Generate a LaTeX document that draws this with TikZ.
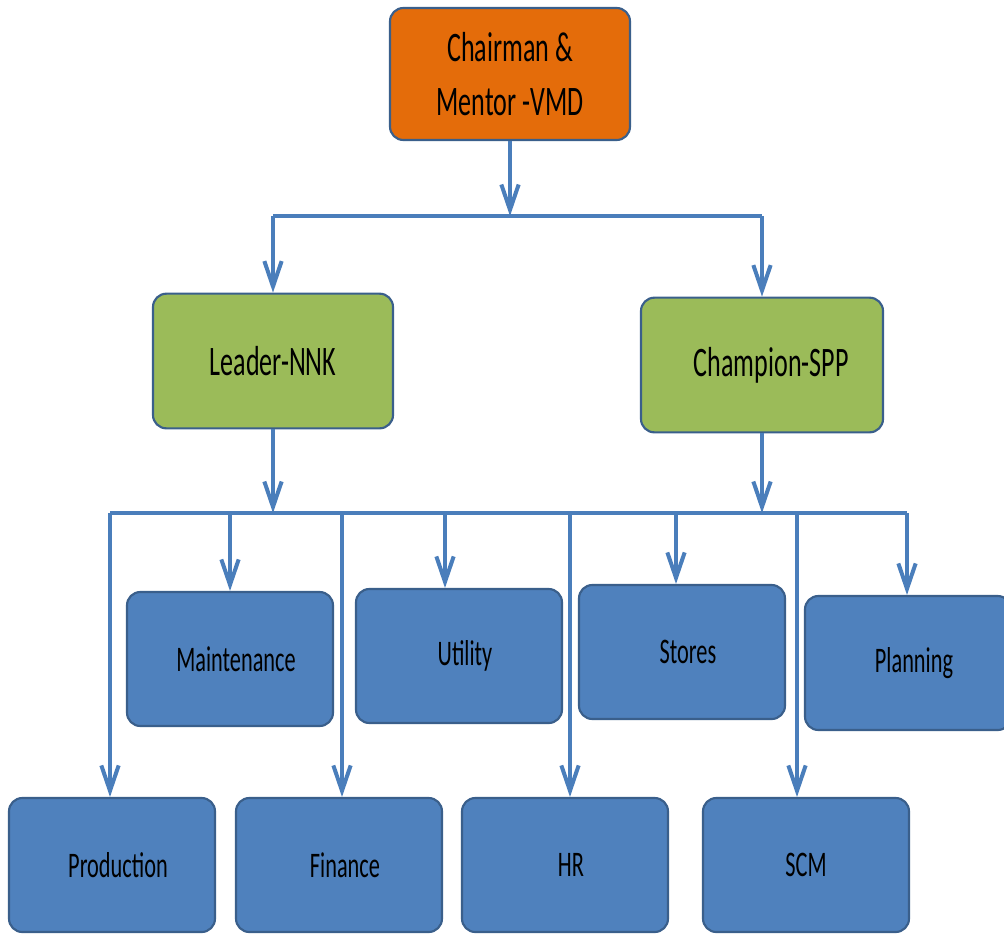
\documentclass[tikz,border=0pt]{standalone}
\usepackage{fontspec}
\setmainfont[FakeStretch=0.62]{Carlito}
\usetikzlibrary{arrows.meta}
\definecolor{orangefill}{HTML}{E46C0A}
\definecolor{greenfill}{HTML}{9BBB59}
\definecolor{bluefill}{HTML}{4F81BD}
\definecolor{boxborder}{HTML}{3A5F8B}
\definecolor{linkblue}{HTML}{4A7EBB}
\newcommand{\shiftr}{\kern9pt}
\begin{document}
\begin{tikzpicture}[x=0.75pt,y=-0.75pt,
 box/.style={draw=boxborder, line width=1.6pt, rounded corners=10pt, align=center, inner sep=0pt},
 topbox/.style={box, fill=orangefill, minimum width=180pt, minimum height=99pt, font=\fontsize{31.5}{41}\selectfont},
 midbox/.style={box, fill=greenfill, minimum width=180pt, minimum height=101pt, font=\fontsize{31.5}{41}\selectfont},
 lowbox/.style={box, fill=bluefill, minimum width=154.5pt, minimum height=100.5pt, font=\fontsize{27}{33}\selectfont},
 link/.style={draw=linkblue, line width=3pt},
 arr/.style={link, -{Straight Barb[length=19pt,width=13pt]}}
]
\useasboundingbox (0,0) rectangle (1004,933);
\clip (0,0) rectangle (1004,933);
% boxes
\node[topbox] (chair) at (510,74) {Chairman \&\\Mentor -VMD};
\node[midbox] (leader) at (273,361) {Leader-NNK};
\node[midbox, minimum width=181.5pt] (champ) at (762,365) {\kern14pt Champion-SPP};
\node[lowbox] (maint) at (230,659) {\shiftr Maintenance};
\node[lowbox] (util) at (459,656) {\shiftr Utility};
\node[lowbox] (stores) at (682,652) {\shiftr Stores};
\node[lowbox] (plan) at (908,663) {\shiftr Planning};
\node[lowbox] (prod) at (112,865) {\shiftr Production};
\node[lowbox] (fin) at (339,865) {\shiftr Finance};
\node[lowbox] (hr) at (565,865) {\shiftr HR};
\node[lowbox] (scm) at (806,865) {SCM};
% top bar
\coordinate (barL) at (273,216);
\coordinate (barC) at (510,216);
\coordinate (barR) at (762,216);
\draw[link] (barL) -- (barR);
\draw[arr] (chair.south) -- (barC);
\draw[arr] (barL) -- (leader.north);
\draw[arr] (barR) -- (champ.north);
% lower bar
\coordinate (lbL) at (110,513);
\coordinate (lbR) at (907,513);
\draw[link] (lbL) -- (lbR);
\draw[arr] (leader.south) -- (leader.south |- lbL);
\draw[arr] (champ.south) -- (champ.south |- lbL);
\coordinate (d1) at (110,513);
\coordinate (d2) at (230,513);
\coordinate (d3) at (342,513);
\coordinate (d4) at (445,513);
\coordinate (d5) at (570,513);
\coordinate (d6) at (676,513);
\coordinate (d7) at (797,513);
\coordinate (d8) at (907,513);
\draw[arr] (d1) -- (prod.north -| d1);
\draw[arr] (d2) -- (maint.north -| d2);
\draw[arr] (d3) -- (fin.north -| d3);
\draw[arr] (d4) -- (util.north -| d4);
\draw[arr] (d5) -- (hr.north -| d5);
\draw[arr] (d6) -- (stores.north -| d6);
\draw[arr] (d7) -- (scm.north -| d7);
\draw[arr] (d8) -- (plan.north -| d8);
\end{tikzpicture}
\end{document}
